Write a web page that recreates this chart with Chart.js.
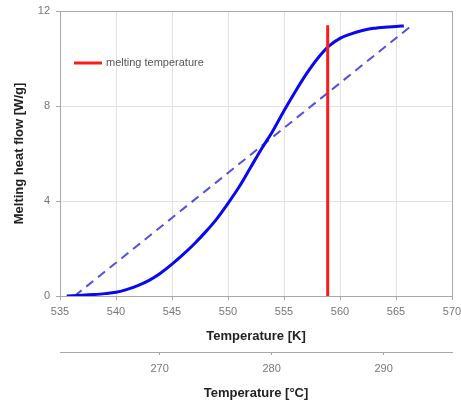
<!DOCTYPE html>
<html>
<head>
<meta charset="utf-8">
<script src="https://cdn.jsdelivr.net/npm/chart.js@4"></script>
<style>
  html, body { margin: 0; padding: 0; background: #fff; }
  #wrap { width: 461px; height: 403px; }
</style>
</head>
<body>
<div id="wrap"><canvas id="meltChart"></canvas></div>
<script>
// === Data ===
const curveTempK = [535.6, 537, 538, 539, 540, 541, 542, 543, 544, 545, 546, 547, 548, 549, 550,
  551, 552, 553, 554, 555, 556, 557, 558, 559, 560, 561, 562, 563, 564, 565, 565.7];
const curveHeatFlow = [0, 0.03, 0.06, 0.1, 0.16, 0.28, 0.45, 0.67, 0.97, 1.34, 1.75, 2.2, 2.7, 3.25, 3.9,
  4.6, 5.4, 6.2, 6.95, 7.8, 8.6, 9.35, 10.0, 10.52, 10.85, 11.04, 11.18, 11.27, 11.32, 11.35, 11.37];

const chordTempK = [536.3, 566.3];
const chordHeatFlow = [0, 11.35];

const meltTempK = [558.9, 558.9];
const meltHeatFlow = [0, 11.4];

const kelvinTicks = [535, 540, 545, 550, 555, 560, 565, 570];
const celsiusTicks = [270, 280, 290];
const heatFlowTicks = [0, 4, 8, 12];

const kelvinToCelsius = 273.9; // offset as drawn on the reference's lower axis

const toPoints = (xs, ys) => xs.map((x, i) => ({ x: x, y: ys[i] }));

// === Plugins ===
const frame = {
  id: "frame",
  beforeDatasetsDraw(chart) {
    const { ctx, chartArea: a } = chart;
    ctx.save();
    ctx.strokeStyle = "#a8a8a8";
    ctx.lineWidth = 1;
    ctx.strokeRect(a.left + 0.5, a.top + 0.5, a.right - a.left, a.bottom - a.top);
    ctx.restore();
  }
};

const meltLegend = {
  id: "meltLegend",
  afterDatasetsDraw(chart) {
    const { ctx, chartArea: a } = chart;
    const y = a.top + 52;
    ctx.save();
    ctx.strokeStyle = "#ff1a1a";
    ctx.lineWidth = 3;
    ctx.beginPath();
    ctx.moveTo(a.left + 14, y);
    ctx.lineTo(a.left + 42, y);
    ctx.stroke();
    ctx.fillStyle = "#555";
    ctx.font = "11px 'Liberation Sans', Arial, sans-serif";
    ctx.textBaseline = "middle";
    ctx.fillText("melting temperature", a.left + 46, y);
    ctx.restore();
  }
};

// keep the plot box where the reference has it
const fitBottom = h => s => { s.height = h; s.paddingLeft = 0; s.paddingRight = 0; };

// === Chart ===
const tickFont = { family: "'Liberation Sans', Arial, sans-serif", size: 11 };
const titleFont = { family: "'Liberation Sans', Arial, sans-serif", size: 13, weight: "bold" };

new Chart(document.getElementById("meltChart").getContext("2d"), {
  type: "line",
  data: {
    datasets: [
      {
        label: "melting temperature",
        data: toPoints(meltTempK, meltHeatFlow),
        borderColor: "#ff1a1a",
        borderWidth: 3,
        pointRadius: 0
      },
      {
        label: "heat flow",
        data: toPoints(curveTempK, curveHeatFlow),
        borderColor: "#0808f2",
        borderWidth: 3,
        pointRadius: 0,
        cubicInterpolationMode: "monotone"
      },
      {
        label: "chord",
        data: toPoints(chordTempK, chordHeatFlow),
        borderColor: "#5050e0",
        borderWidth: 2,
        borderDash: [9, 6],
        pointRadius: 0
      }
    ]
  },
  options: {
    responsive: true,
    maintainAspectRatio: false,
    animation: false,
    layout: { padding: { top: 11, right: 9, bottom: 0, left: 0 } },
    plugins: {
      legend: { display: false },
      tooltip: { enabled: false }
    },
    scales: {
      x: {
        type: "linear",
        position: "bottom",
        min: 535,
        max: 570,
        afterBuildTicks: s => { s.ticks = kelvinTicks.map(v => ({ value: v })); },
        afterFit: fitBottom(56),
        grid: { color: "#e2e2e2", tickLength: 4, tickColor: "#a8a8a8" },
        border: { color: "#a8a8a8" },
        ticks: { color: "#777", font: tickFont, padding: 5, maxRotation: 0 },
        title: { display: true, text: "Temperature [K]", color: "#222", font: titleFont, padding: { top: 0, bottom: 8 } }
      },
      xC: {
        type: "linear",
        position: "bottom",
        min: 535 - kelvinToCelsius,
        max: 570 - kelvinToCelsius,
        afterBuildTicks: s => { s.ticks = celsiusTicks.map(v => ({ value: v })); },
        afterFit: fitBottom(51),
        grid: { drawOnChartArea: false, tickLength: 3, color: "#a8a8a8" },
        border: { color: "#a8a8a8" },
        ticks: { color: "#777", font: tickFont, padding: 7, maxRotation: 0 },
        title: { display: true, text: "Temperature [°C]", color: "#222", font: titleFont, padding: { top: 0, bottom: 2 } }
      },
      y: {
        type: "linear",
        min: 0,
        max: 12,
        afterBuildTicks: s => { s.ticks = heatFlowTicks.map(v => ({ value: v })); },
        afterFit: s => { s.width = 60; s.paddingTop = 0; s.paddingBottom = 0; },
        grid: { color: "#e2e2e2", tickLength: 4, tickColor: "#a8a8a8" },
        border: { color: "#a8a8a8" },
        ticks: { color: "#777", font: tickFont, padding: 6 },
        title: { display: true, text: "Melting heat flow [W/g]", color: "#222", font: titleFont, padding: { top: 12, bottom: 0 } }
      }
    }
  },
  plugins: [frame, meltLegend]
});
</script>
</body>
</html>
